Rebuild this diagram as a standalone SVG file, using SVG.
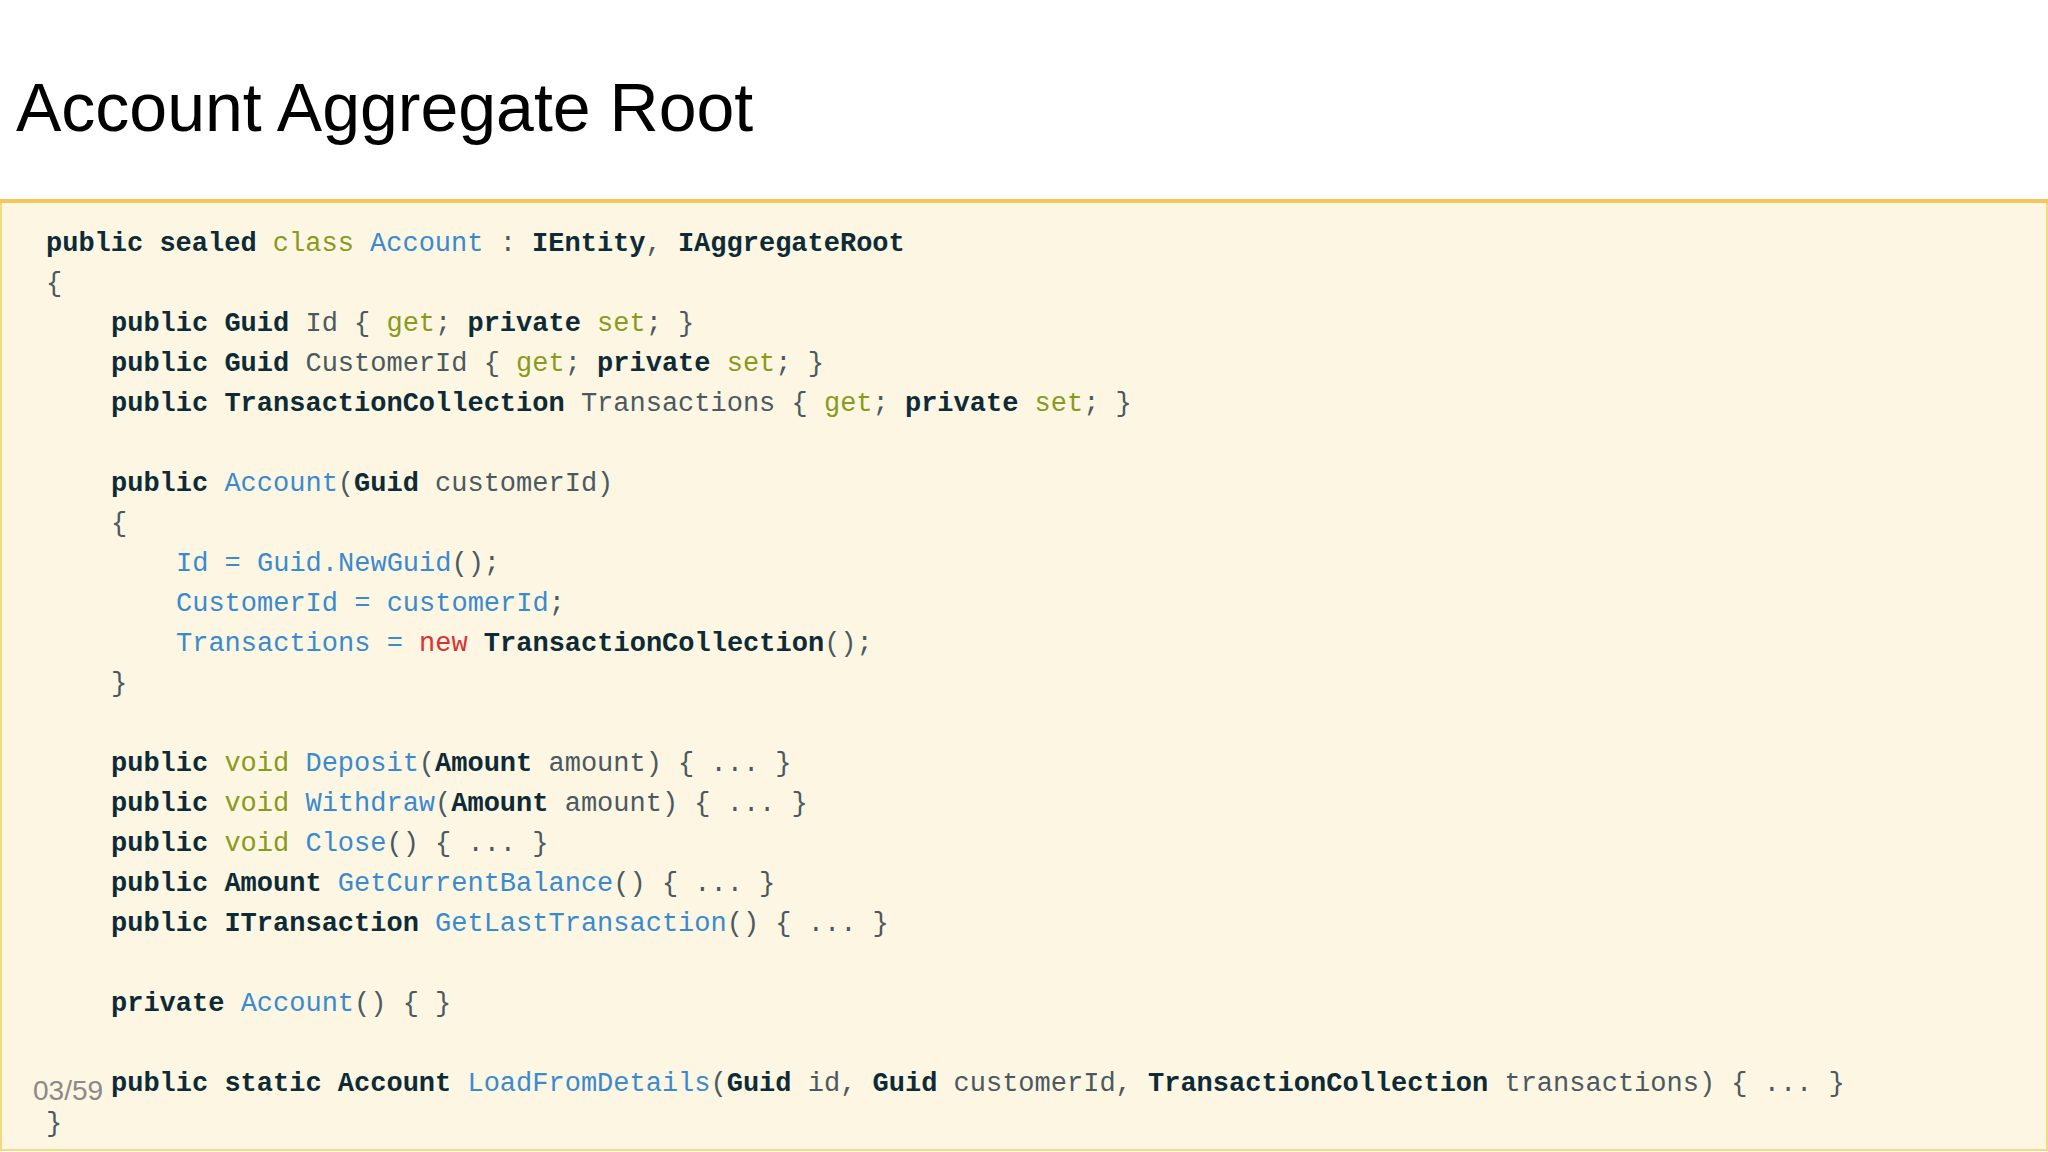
<svg xmlns="http://www.w3.org/2000/svg" width="2048" height="1152" viewBox="0 0 2048 1152">
<style>
.c{font-family:"Liberation Mono",monospace;font-size:27px;fill:#4a5a60}
.k{font-weight:bold;fill:#0d2b36}
.g{fill:#8a9a1c}
.b{fill:#3a8ad0}
.r{fill:#dc322f}
</style>
<rect width="2048" height="1152" fill="#ffffff"/>
<text x="16" y="131" font-family="Liberation Sans,Arial,sans-serif" font-size="68" fill="#000">Account Aggregate Root</text>
<g id="codebox">
<rect x="1" y="200" width="2046" height="950" fill="#fdf6e3" stroke="#f3d980" stroke-width="2"/>
<line x1="0" y1="201" x2="2048" y2="201" stroke="#f7c55c" stroke-width="4"/>
</g>
<g id="code" class="c">
<text x="46" y="251"><tspan class="k">public sealed</tspan> <tspan class="g">class</tspan> <tspan class="b">Account</tspan> : <tspan class="k">IEntity</tspan>, <tspan class="k">IAggregateRoot</tspan></text>
<text x="46" y="291">{</text>
<text x="111" y="331"><tspan class="k">public Guid</tspan> Id { <tspan class="g">get</tspan>; <tspan class="k">private</tspan> <tspan class="g">set</tspan>; }</text>
<text x="111" y="371"><tspan class="k">public Guid</tspan> CustomerId { <tspan class="g">get</tspan>; <tspan class="k">private</tspan> <tspan class="g">set</tspan>; }</text>
<text x="111" y="411"><tspan class="k">public TransactionCollection</tspan> Transactions { <tspan class="g">get</tspan>; <tspan class="k">private</tspan> <tspan class="g">set</tspan>; }</text>
<text x="111" y="491"><tspan class="k">public</tspan> <tspan class="b">Account</tspan>(<tspan class="k">Guid</tspan> customerId)</text>
<text x="111" y="531">{</text>
<text x="176" y="571"><tspan class="b">Id = Guid.NewGuid</tspan>();</text>
<text x="176" y="611"><tspan class="b">CustomerId = customerId</tspan>;</text>
<text x="176" y="651"><tspan class="b">Transactions =</tspan> <tspan class="r">new</tspan> <tspan class="k">TransactionCollection</tspan>();</text>
<text x="111" y="691">}</text>
<text x="111" y="771"><tspan class="k">public</tspan> <tspan class="g">void</tspan> <tspan class="b">Deposit</tspan>(<tspan class="k">Amount</tspan> amount) { ... }</text>
<text x="111" y="811"><tspan class="k">public</tspan> <tspan class="g">void</tspan> <tspan class="b">Withdraw</tspan>(<tspan class="k">Amount</tspan> amount) { ... }</text>
<text x="111" y="851"><tspan class="k">public</tspan> <tspan class="g">void</tspan> <tspan class="b">Close</tspan>() { ... }</text>
<text x="111" y="891"><tspan class="k">public Amount</tspan> <tspan class="b">GetCurrentBalance</tspan>() { ... }</text>
<text x="111" y="931"><tspan class="k">public ITransaction</tspan> <tspan class="b">GetLastTransaction</tspan>() { ... }</text>
<text x="111" y="1011"><tspan class="k">private</tspan> <tspan class="b">Account</tspan>() { }</text>
<text x="111" y="1091"><tspan class="k">public static Account</tspan> <tspan class="b">LoadFromDetails</tspan>(<tspan class="k">Guid</tspan> id, <tspan class="k">Guid</tspan> customerId, <tspan class="k">TransactionCollection</tspan> transactions) { ... }</text>
<text x="46" y="1131">}</text>
</g>
<text x="33" y="1100" font-family="Liberation Sans,Arial,sans-serif" font-size="28" fill="#8a8a8a">03/59</text>
</svg>
